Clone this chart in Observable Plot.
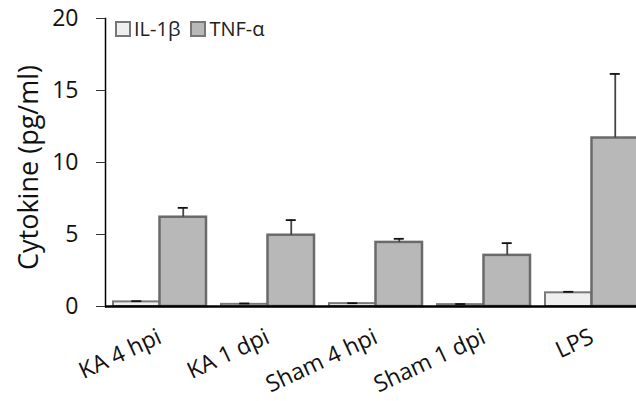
<!DOCTYPE html>
<html>
<head>
<meta charset="utf-8">
<script src="https://cdn.jsdelivr.net/npm/d3@7"></script>
<script src="https://cdn.jsdelivr.net/npm/@observablehq/plot@0.6"></script>
<style>
  html, body { margin: 0; padding: 0; background: white; overflow: hidden; }
  #wrap { position: relative; width: 636px; height: 401px; overflow: hidden; }
  #legend { position: absolute; left: 115px; top: 15px; font-family: "Open Sans", sans-serif; font-size: 20px; color: #222; display: flex; align-items: center; }
  .sw { display: inline-block; width: 12px; height: 12px; border: 2px solid #777; margin-right: 3px; }
  .item { display: flex; align-items: center; margin-right: 10px; }
</style>
</head>
<body>
<div id="wrap"><div id="legend"></div></div>
<script>
const groups = ["KA 4 hpi", "KA 1 dpi", "Sham 4 hpi", "Sham 1 dpi", "LPS"];
const il1b = [0.32, 0.15, 0.2, 0.13, 0.95];
const il1bErr = [0.05, 0.06, 0.03, 0.04, 0.07];
const tnf = [6.2, 4.95, 4.45, 3.55, 11.7];
const tnfErr = [0.65, 1.05, 0.25, 0.85, 4.45];
const yTicks = [0, 5, 10, 15, 20];
const seriesNames = ["IL-1β", "TNF-α"];

const rows = groups.map((g, i) => ({group: g, il: il1b[i], ilErr: il1bErr[i], tnf: tnf[i], tnfErr: tnfErr[i]}));

const font = "Open Sans, sans-serif";
const r0 = 105, r1 = 646, pIn = 0.143, pOut = 0.0645;
const step = (r1 - r0) / (groups.length - pIn + 2 * pOut);
const bw = step * (1 - pIn);
const cap = 10;

const chart = Plot.plot({
  width: 636,
  height: 401,
  marginLeft: 105,
  marginRight: 0,
  marginTop: 18,
  marginBottom: 95,
  style: {fontFamily: font, background: "white", overflow: "hidden"},
  x: {domain: groups, range: [r0, r1], paddingInner: pIn, paddingOuter: pOut, axis: null},
  y: {domain: [0, 20], axis: null},
  marks: [
    Plot.barY(rows, {x: "group", y: "il", insetRight: bw / 2, fill: "#efefef", stroke: "#7a7a7a", strokeWidth: 2}),
    Plot.barY(rows, {x: "group", y: "tnf", insetLeft: bw / 2, fill: "#b8b8b8", stroke: "#6a6a6a", strokeWidth: 2.5}),
    Plot.ruleX(rows, {x: "group", y1: "il", y2: d => d.il + d.ilErr, dx: -bw / 4, stroke: "#333", strokeWidth: 1.5}),
    Plot.ruleX(rows, {x: "group", y1: "tnf", y2: d => d.tnf + d.tnfErr, dx: bw / 4, stroke: "#444", strokeWidth: 1.8}),
    Plot.tickY(rows, {x: "group", y: d => d.il + d.ilErr, insetLeft: bw / 4 - cap / 2, insetRight: 3 * bw / 4 - cap / 2, stroke: "#111", strokeWidth: 1.8}),
    Plot.tickY(rows, {x: "group", y: d => d.tnf + d.tnfErr, insetLeft: 3 * bw / 4 - cap / 2, insetRight: bw / 4 - cap / 2, stroke: "#111", strokeWidth: 1.8}),
    Plot.ruleY([0], {stroke: "black", strokeWidth: 2.5}),
    Plot.frame({anchor: "left", stroke: "black", strokeWidth: 1.5}),
    Plot.axisY({ticks: yTicks, tickSize: 9, tickPadding: 18, fontSize: 23, label: null, stroke: "#333", color: "#111"}),
    Plot.axisX({tickSize: 0, tickRotate: -25, fontSize: 23, label: null, tickPadding: 29, color: "#111"}),
    Plot.text(["Cytokine (pg/ml)"], {frameAnchor: "left", textAnchor: "middle", rotate: -90, dx: -76, dy: 5, fontSize: 27, fill: "#111"})
  ]
});

const wrap = document.getElementById("wrap");
wrap.insertBefore(chart, wrap.firstChild);

const legend = document.getElementById("legend");
const swFills = ["#efefef", "#b8b8b8"];
seriesNames.forEach((n, i) => {
  const it = document.createElement("span");
  it.className = "item";
  const sw = document.createElement("span");
  sw.className = "sw";
  sw.style.background = swFills[i];
  it.appendChild(sw);
  const t = document.createElement("span");
  t.textContent = n;
  it.appendChild(t);
  legend.appendChild(it);
});
</script>
</body>
</html>
